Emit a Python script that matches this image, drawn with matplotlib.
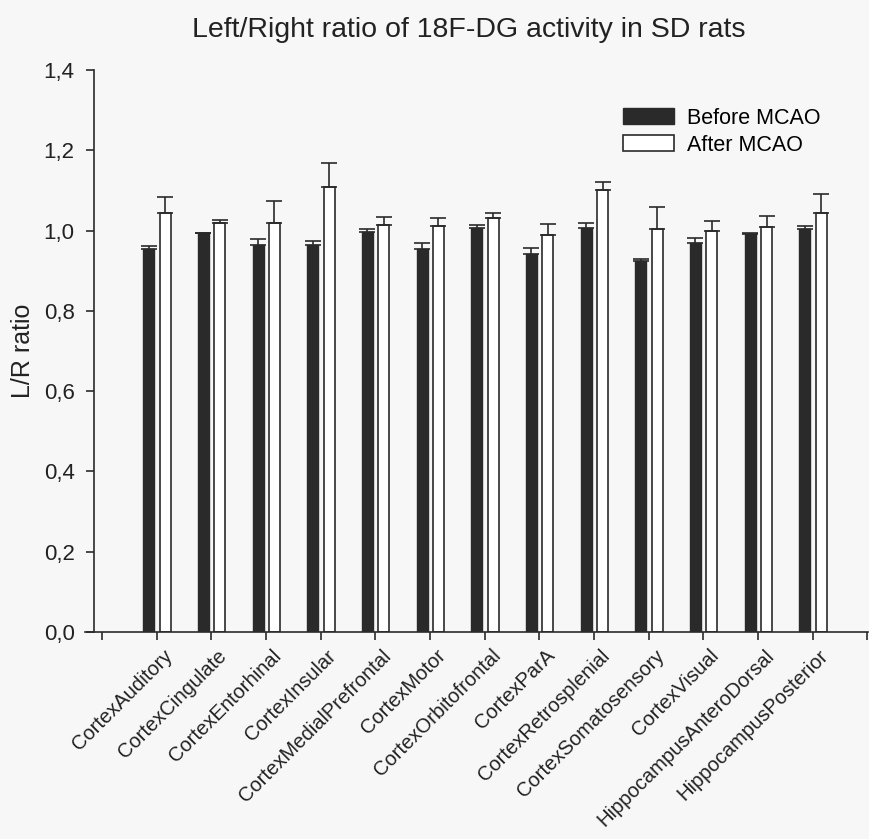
import matplotlib
matplotlib.use("Agg")
import matplotlib.pyplot as plt
import matplotlib.transforms as mtransforms
import numpy as np

plt.rcParams['font.family'] = ['Liberation Sans', 'DejaVu Sans']

regions = ["CortexAuditory", "CortexCingulate", "CortexEntorhinal", "CortexInsular",
           "CortexMedialPrefrontal", "CortexMotor", "CortexOrbitofrontal", "CortexParA",
           "CortexRetrosplenial", "CortexSomatosensory", "CortexVisual",
           "HippocampusAnteroDorsal", "HippocampusPosterior"]

before = [0.953, 0.993, 0.963, 0.963, 0.997, 0.955, 1.007, 0.941, 1.007, 0.923, 0.969, 0.992, 1.003]
before_err = [0.009, 0.002, 0.016, 0.011, 0.006, 0.014, 0.007, 0.015, 0.011, 0.007, 0.013, 0.002, 0.009]
after = [1.043, 1.020, 1.018, 1.108, 1.014, 1.011, 1.032, 0.988, 1.102, 1.003, 1.000, 1.008, 1.045]
after_err = [0.040, 0.007, 0.055, 0.061, 0.021, 0.021, 0.012, 0.028, 0.018, 0.055, 0.025, 0.028, 0.045]

bg = '#f7f7f7'
dark = '#2a2a2a'

fig = plt.figure(figsize=(8.69, 8.39), dpi=100, facecolor=bg)
ax = fig.add_axes([85/869, 207/839, 783/869, 562/839], facecolor=bg)

x = np.arange(1, len(regions) + 1)
w = 0.2
ax.bar(x - 0.145, before, w, color=dark, edgecolor=dark, linewidth=1.0, zorder=2)
ax.bar(x + 0.155, after, w, color='white', edgecolor=dark, linewidth=1.2, zorder=2)

ax.errorbar(x - 0.145, before, yerr=[np.zeros(len(before)), before_err], fmt='none',
            ecolor=dark, elinewidth=1.2, capsize=6, capthick=1.2, zorder=3)
ax.errorbar(x + 0.155, after, yerr=[np.zeros(len(after)), after_err], fmt='none',
            ecolor=dark, elinewidth=1.2, capsize=6, capthick=1.2, zorder=3)

ax.set_xlim(-0.31, 14.01)
ax.set_ylim(0, 1.4)
ax.spines['top'].set_visible(False)
ax.spines['right'].set_visible(False)
ax.spines['left'].set_position(('data', -0.146))
for s in ('left', 'bottom'):
    ax.spines[s].set_color(dark)
    ax.spines[s].set_linewidth(1.2)

ax.set_yticks(np.arange(0, 1.41, 0.2))
ax.set_yticklabels([("%.1f" % v).replace('.', ',') for v in np.arange(0, 1.41, 0.2)], fontsize=16)
ax.set_xticks(range(0, 15))
ax.set_xticklabels([''] + regions + [''], rotation=45, ha='right', rotation_mode='anchor', fontsize=14.5)
ax.tick_params(axis='both', colors=dark, length=6, width=1.2, labelcolor='#222222')
ax.tick_params(axis='x', pad=2)
ax.tick_params(axis='y', pad=8)

# nudge the slanted labels a little to the right, as in the original
shift = mtransforms.ScaledTranslation(6/100, -3/100, fig.dpi_scale_trans)
for lab in ax.get_xticklabels():
    lab.set_transform(lab.get_transform() + shift)

ax.set_ylabel('L/R ratio', fontsize=18, color='#222222', labelpad=6)
fig.text(469/869, 1 - 30/839, 'Left/Right ratio of 18F-DG activity in SD rats',
         fontsize=20.5, ha='center', va='center', color='#222222')

ax.legend(['Before MCAO', 'After MCAO'], loc='upper left', frameon=False, fontsize=15.5,
          bbox_to_anchor=(612/869, 1 - 97/839), bbox_transform=fig.transFigure,
          borderpad=0, handlelength=2.37, handleheight=0.75, handletextpad=0.6,
          labelspacing=0.28)

fig.savefig('out.png', dpi=100, facecolor=bg)
